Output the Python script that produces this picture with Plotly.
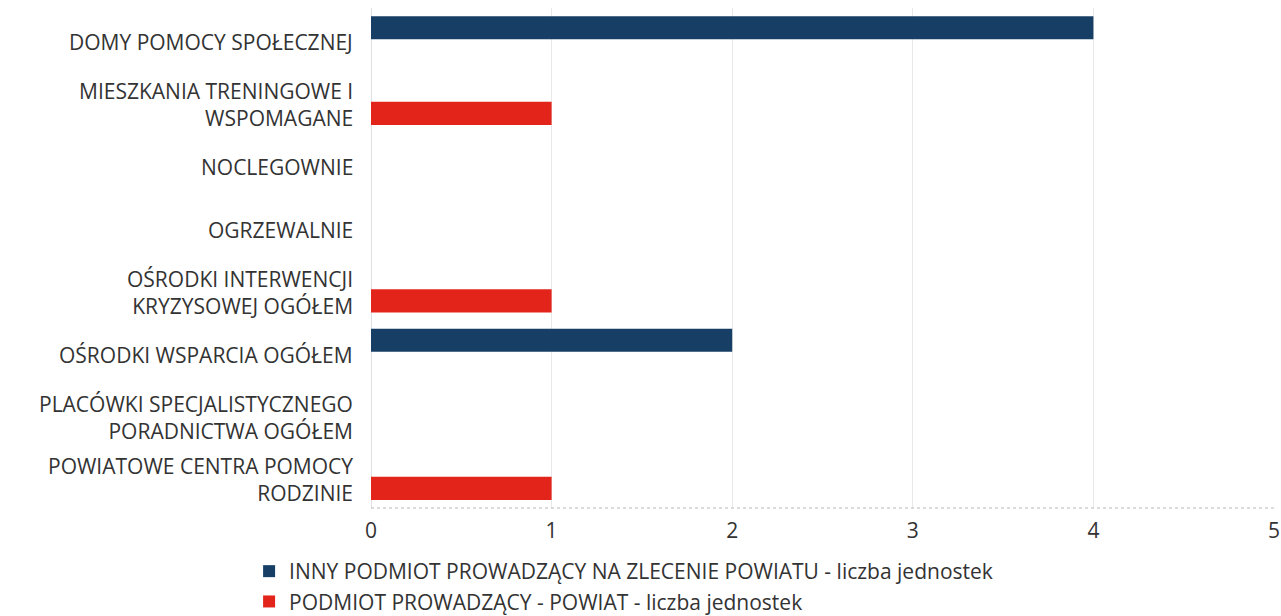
import plotly.graph_objects as go

categories = [
    "DOMY POMOCY SPOŁECZNEJ",
    "MIESZKANIA TRENINGOWE I<br>WSPOMAGANE",
    "NOCLEGOWNIE",
    "OGRZEWALNIE",
    "OŚRODKI INTERWENCJI<br>KRYZYSOWEJ OGÓŁEM",
    "OŚRODKI WSPARCIA OGÓŁEM",
    "PLACÓWKI SPECJALISTYCZNEGO<br>PORADNICTWA OGÓŁEM",
    "POWIATOWE CENTRA POMOCY<br>RODZINIE",
]
series_names = [
    "INNY PODMIOT PROWADZĄCY NA ZLECENIE POWIATU - liczba jednostek",
    "PODMIOT PROWADZĄCY - POWIAT - liczba jednostek",
]
inny_values = [4, 0, 0, 0, 0, 2, 0, 0]
powiat_values = [0, 1, 0, 0, 1, 0, 0, 1]
x_ticks = [0, 1, 2, 3, 4, 5]

colors = ["#173f66", "#e2241b"]
FONT = "Open Sans"
FS = 21
TXT = "#333333"

fig = go.Figure()
for name, vals, col in zip(series_names, [inny_values, powiat_values], colors):
    fig.add_trace(go.Bar(
        y=categories, x=vals, name=name, orientation="h",
        marker=dict(color=col, line=dict(width=0)),
    ))

# category labels as right-aligned annotations at each category position
annotations = []
for cat in categories:
    annotations.append(dict(
        x=0, xref="paper", y=cat, yref="y", text=cat,
        xanchor="right", yanchor="middle", align="right", showarrow=False,
        xshift=-16, yshift=-3,
        font=dict(family=FONT, size=FS, color=TXT),
    ))

W, H = 1281, 616
fig.update_layout(
    width=W, height=H,
    barmode="group",
    bargap=0.26, bargroupgap=0,
    paper_bgcolor="white", plot_bgcolor="white",
    font=dict(family=FONT, size=FS, color=TXT),
    margin=dict(l=371, r=7, t=8, b=108, autoexpand=False),
    legend=dict(
        orientation="v", x=-0.135, xanchor="left", y=-0.228, yanchor="bottom",
        font=dict(family=FONT, size=FS, color=TXT), traceorder="normal",
        tracegroupgap=0,
    ),
    xaxis=dict(
        range=[0, 5], tickvals=x_ticks, showgrid=True, gridcolor="#e8e8e8",
        zeroline=True, zerolinecolor="#e0e0e0", zerolinewidth=1,
        showline=False, ticks="", tickfont=dict(size=FS, color=TXT),
        ticklabelstandoff=8, automargin=False,
    ),
    yaxis=dict(
        autorange="reversed", showgrid=False, ticks="", showline=False,
        showticklabels=False, automargin=False,
    ),
    annotations=annotations,
    shapes=[dict(
        type="line", xref="paper", yref="paper", x0=0, x1=1, y0=0, y1=0,
        line=dict(color="#b8b8b8", width=1, dash="dot"),
    )],
)

fig.write_html(
    "out.html",
    config={"displayModeBar": False},
    post_script="document.body.style.margin='0';document.body.style.overflow='hidden';",
)
